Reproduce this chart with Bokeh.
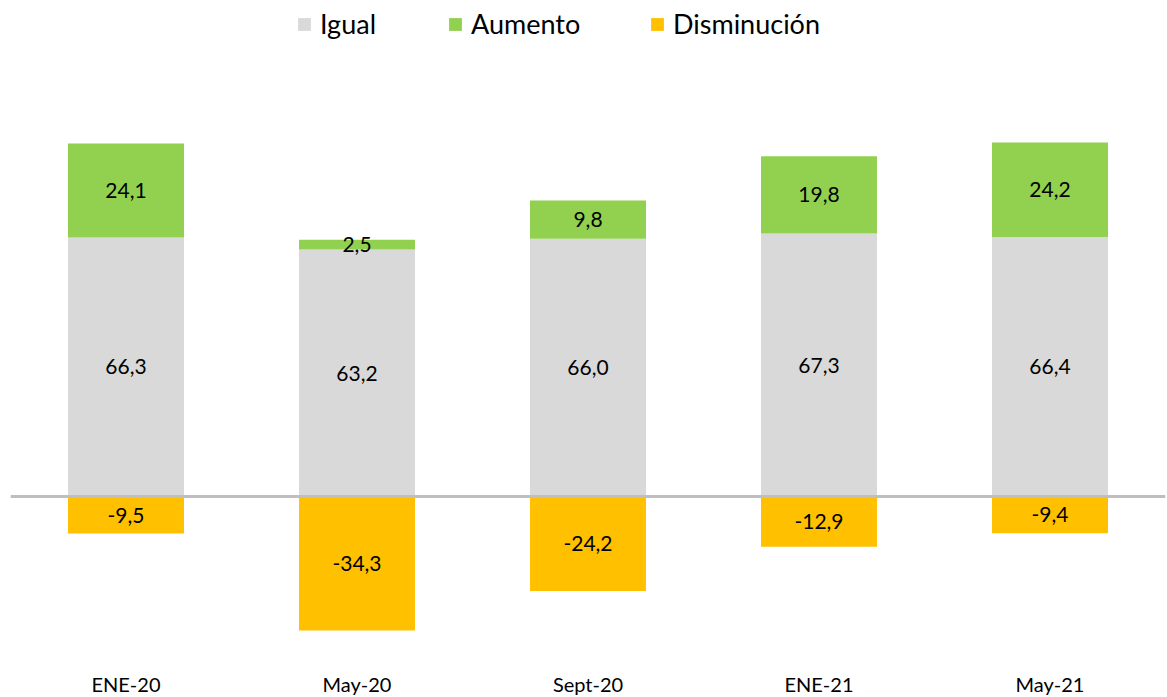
from bokeh.plotting import figure
from bokeh.models import ColumnDataSource, Span, Legend, LegendItem
from bokeh.core.properties import value
from bokeh.embed import file_html
from bokeh.resources import INLINE

categories = ["ENE-20", "May-20", "Sept-20", "ENE-21", "May-21"]
igual = [66.3, 63.2, 66.0, 67.3, 66.4]
aumento = [24.1, 2.5, 9.8, 19.8, 24.2]
disminucion = [-9.5, -34.3, -24.2, -12.9, -9.4]

C_IGUAL = "#d9d9d9"
C_AUM = "#92d050"
C_DIS = "#ffc000"
FONT = "Lato"

def fmt(v):
    return f"{v:.1f}".replace(".", ",")

src = ColumnDataSource(dict(
    cat=categories,
    igual=igual,
    aumento=aumento,
    dis=disminucion,
    top_aum=[i + a for i, a in zip(igual, aumento)],
    y_igual=[i / 2 for i in igual],
    y_aum=[i + a / 2 for i, a in zip(igual, aumento)],
    y_dis=[d / 2 for d in disminucion],
    l_igual=[fmt(v) for v in igual],
    l_aum=[fmt(v) for v in aumento],
    l_dis=[fmt(v) for v in disminucion],
))

p = figure(x_range=categories, y_range=(-43.27, 124.93),
           frame_width=1155, frame_height=657,
           output_backend="svg", toolbar_location=None,
           min_border_left=10, min_border_right=2, min_border_top=8, min_border_bottom=0)
p.background_fill_color = "white"
p.outline_line_color = None
p.xgrid.visible = False
p.ygrid.visible = False
p.yaxis.visible = False

W = 0.502
r_ig = p.vbar(x="cat", top="igual", bottom=0, width=W, source=src, fill_color=C_IGUAL, line_color=None)
r_au = p.vbar(x="cat", top="top_aum", bottom="igual", width=W, source=src, fill_color=C_AUM, line_color=None)
r_di = p.vbar(x="cat", top=0, bottom="dis", width=W, source=src, fill_color=C_DIS, line_color=None)

p.add_layout(Span(location=0, dimension="width", line_color="#bfbfbf", line_width=3))

for ycol, lcol in [("y_igual", "l_igual"), ("y_aum", "l_aum"), ("y_dis", "l_dis")]:
    p.text(x="cat", y=ycol, text=lcol, source=src, text_font=value(FONT),
           text_font_size="21px", text_align="center", text_baseline="middle",
           text_color="black")

ax = p.xaxis[0]
ax.axis_line_color = None
ax.major_tick_line_color = None
ax.minor_tick_line_color = None
ax.major_label_standoff = 0
ax.major_label_text_font = FONT
ax.major_label_text_font_size = "20px"
ax.major_label_text_color = "black"

for label, rend, xloc in [("Igual", r_ig, 286), ("Aumento", r_au, 437), ("Disminución", r_di, 639)]:
    lg = Legend(items=[LegendItem(label=label, renderers=[rend])],
                orientation="horizontal", location=(xloc, 625),
                glyph_width=16, glyph_height=16, label_standoff=8,
                padding=0, margin=0, border_line_color=None, background_fill_alpha=0,
                label_text_font=FONT, label_text_font_size="27px", label_text_color="black")
    p.add_layout(lg)

open("out.html", "w").write(file_html(p, INLINE))
